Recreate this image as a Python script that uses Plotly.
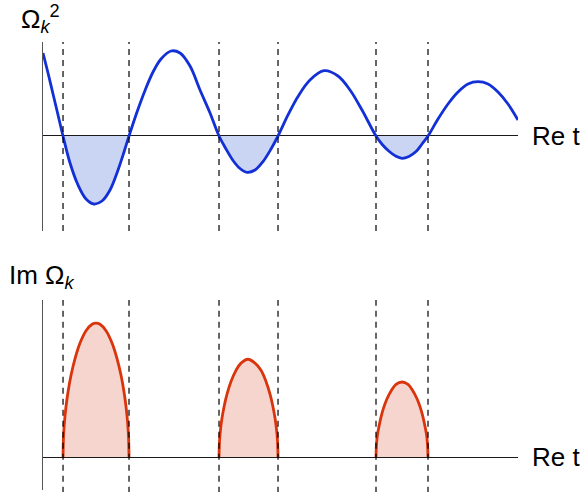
import plotly.graph_objects as go

# Omega_k^2 sampled along Re t
t_vals = [0.00, 0.10, 0.20, 0.30, 0.40, 0.54, 0.70, 0.86, 1.02, 1.18, 1.34, 1.50, 1.62, 1.72,
          1.88, 2.04, 2.20, 2.36, 2.56, 2.74, 2.94, 3.14, 3.34, 3.52,
          3.66, 3.80, 3.94, 4.08, 4.24, 4.40, 4.56, 4.70,
          4.90, 5.10, 5.34, 5.62, 5.90, 6.14, 6.38, 6.66,
          6.78, 6.92, 7.06, 7.18, 7.32, 7.46, 7.58, 7.70,
          7.90, 8.10, 8.30, 8.50, 8.70, 8.90, 9.10, 9.30, 9.50]
omega_sq = [1.221, 0.926, 0.618, 0.309, 0.0, -0.397, -0.721, -0.926, -1.0, -0.956, -0.794, -0.500, -0.235, 0.0,
            0.353, 0.670, 0.941, 1.132, 1.250, 1.221, 1.029, 0.676, 0.338, 0.0,
            -0.191, -0.360, -0.478, -0.534, -0.500, -0.376, -0.191, 0.0,
            0.309, 0.582, 0.824, 0.960, 0.882, 0.676, 0.382, 0.0,
            -0.121, -0.225, -0.299, -0.328, -0.300, -0.229, -0.118, 0.0,
            0.250, 0.471, 0.647, 0.765, 0.799, 0.765, 0.647, 0.471, 0.235]

# zero crossings of Omega_k^2: edges of the unstable bands
crossings = [0.40, 1.72, 3.52, 4.70, 6.66, 7.70]

# Im Omega_k inside each unstable band
band_t = [
    [0.40, 0.41, 0.43, 0.46, 0.50, 0.56, 0.64, 0.74, 0.86, 0.98, 1.06, 1.14, 1.26, 1.38, 1.48, 1.56, 1.62, 1.66, 1.69, 1.71, 1.72],
    [3.52, 3.53, 3.55, 3.58, 3.62, 3.68, 3.76, 3.86, 3.96, 4.10, 4.24, 4.36, 4.46, 4.54, 4.60, 4.64, 4.67, 4.69, 4.70],
    [6.66, 6.67, 6.69, 6.72, 6.76, 6.81, 6.88, 6.97, 7.06, 7.18, 7.30, 7.39, 7.48, 7.55, 7.60, 7.64, 7.67, 7.69, 7.70],
]
band_im = [
    [0.0, 0.154, 0.267, 0.377, 0.486, 0.610, 0.735, 0.851, 0.943, 0.991, 1.0, 0.991, 0.943, 0.851, 0.735, 0.610, 0.486, 0.377, 0.267, 0.154, 0.0],
    [0.0, 0.119, 0.206, 0.291, 0.374, 0.469, 0.564, 0.647, 0.701, 0.730, 0.701, 0.647, 0.564, 0.469, 0.374, 0.291, 0.206, 0.119, 0.0],
    [0.0, 0.097, 0.168, 0.229, 0.298, 0.365, 0.435, 0.499, 0.543, 0.560, 0.543, 0.499, 0.435, 0.365, 0.298, 0.229, 0.168, 0.097, 0.0],
]

BLUE = "rgb(18,48,214)"
BLUE_FILL = "rgb(202,212,243)"
RED = "rgb(218,52,12)"
RED_FILL = "rgb(246,213,206)"
FONT = "Liberation Sans, Arial, sans-serif"
LABEL_SIZE = 26

fig = go.Figure()

# shaded negative lobes of Omega_k^2
for a, b in zip(crossings[0::2], crossings[1::2]):
    seg_t = [t for t in t_vals if a - 1e-9 <= t <= b + 1e-9]
    seg_v = [v for t, v in zip(t_vals, omega_sq) if a - 1e-9 <= t <= b + 1e-9]
    fig.add_trace(go.Scatter(x=seg_t, y=seg_v, mode="lines", fill="tozeroy",
                             fillcolor=BLUE_FILL, line=dict(width=0, shape="spline"),
                             hoverinfo="skip", xaxis="x", yaxis="y"))

fig.add_trace(go.Scatter(x=t_vals, y=omega_sq, mode="lines",
                         line=dict(color=BLUE, width=2.8, shape="spline"),
                         xaxis="x", yaxis="y"))

# growth rate in each band
for bt, bv in zip(band_t, band_im):
    fig.add_trace(go.Scatter(x=bt, y=bv, mode="lines", fill="tozeroy",
                             fillcolor=RED_FILL, line=dict(color=RED, width=2.8, shape="spline"),
                             xaxis="x2", yaxis="y2"))

# dashed band edges in both panels
dash_style = dict(color="black", width=1.2, dash="6px,5px")
shapes = []
for c in crossings:
    shapes.append(dict(type="line", xref="x", yref="y domain", x0=c, x1=c, y0=0, y1=1,
                       line=dash_style, layer="above"))
    shapes.append(dict(type="line", xref="x2", yref="y2 domain", x0=c, x1=c, y0=-0.015, y1=1.0,
                       line=dash_style, layer="above"))

xdom = [0.0738, 0.8885]
common_x = dict(domain=xdom, range=[0, 9.5], showgrid=False, showticklabels=False,
                zeroline=False, showline=False, ticks="")
common_y = dict(showgrid=False, showticklabels=False, ticks="", zeroline=True,
                zerolinecolor="#1a1a1a", zerolinewidth=1.3, showline=True,
                linecolor="#555555", linewidth=1.3)

label_font = dict(family=FONT, size=LABEL_SIZE, color="black")

fig.update_layout(
    width=583, height=492,
    margin=dict(l=0, r=0, t=0, b=0),
    paper_bgcolor="white", plot_bgcolor="white",
    showlegend=False,
    xaxis=dict(anchor="y", **common_x),
    yaxis=dict(anchor="x", domain=[0.5305, 0.9146], range=[-1.397, 1.382], **common_y),
    xaxis2=dict(anchor="y2", **common_x),
    yaxis2=dict(anchor="x2", domain=[0.0041, 0.3902], range=[-0.246, 1.172], **common_y),
    shapes=shapes,
    annotations=[
        dict(text="Ω<sub><i>k</i></sub><sup>2</sup>", xref="paper", yref="paper",
             x=19 / 583, y=(492 - 19) / 492, xanchor="left", yanchor="middle",
             showarrow=False, font=label_font),
        dict(text="Im Ω<sub><i>k</i></sub>", xref="paper", yref="paper",
             x=7 / 583, y=(492 - 276) / 492, xanchor="left", yanchor="middle",
             showarrow=False, font=label_font),
        dict(text="Re t", xref="x", yref="y", x=9.5, y=0, xanchor="left", yanchor="middle",
             xshift=12, showarrow=False, font=label_font),
        dict(text="Re t", xref="x2", yref="y2", x=9.5, y=0, xanchor="left", yanchor="middle",
             xshift=12, showarrow=False, font=label_font),
    ],
)

fig.write_html("out.html")
